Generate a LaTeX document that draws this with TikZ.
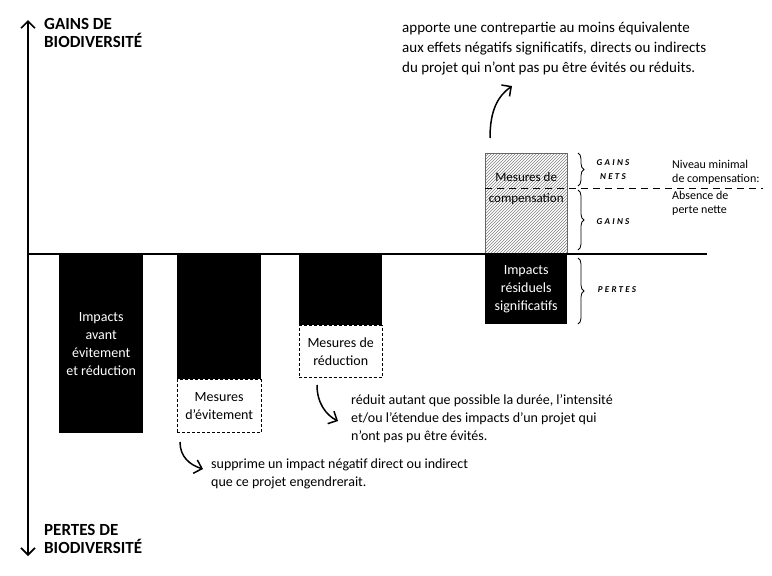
\documentclass[tikz,border=0pt]{standalone}
\usepackage{fontspec}
\setmainfont{Carlito}
\newfontfamily\bracefont{Carlito}[LetterSpace=25]
\usetikzlibrary{shapes, fit, calc, positioning, patterns, decorations.pathreplacing, arrows.meta}

\begin{document}
\begin{tikzpicture}[x=1pt, y=-1pt, >={Straight Barb[length=7pt, width=14pt]}]
			\tikzstyle{bar}=[
			fill=black,
			text=white,
			anchor=north west,
			inner sep=0pt,
			minimum width=84pt,
			align=center,
			font=\fontsize{14}{18}\selectfont]
			\tikzstyle{mesure}=[
			draw,
			dash pattern=on 3pt off 2pt,
			inner sep=0pt,
			minimum width=84pt,
			align=center,
			font=\fontsize{14}{18}\selectfont]
			\tikzstyle{note}=[
			anchor=north west,
			align=left,
			inner sep=0pt,
			font=\fontsize{14}{18}\selectfont]
			\tikzstyle{gain}=[
			align=center,
			inner sep=0pt,
			font=\bracefont\bfseries\itshape\fontsize{9}{14}\selectfont]
			\tikzstyle{axe}=[
			anchor=north west,
			align=left,
			inner sep=0pt,
			font=\bfseries\fontsize{17}{18}\selectfont]
			\tikzstyle{accolade}=[decorate, decoration={brace, amplitude=6pt}, thick]
			\useasboundingbox (0,0) rectangle (772,576);
			\node[bar, minimum height=179pt] (AV) at (59,254) {Impacts\\avant\\évitement\\et réduction};
			\node[bar, minimum height=125pt] (EV) at (177,254) {};
			\node[mesure, minimum height=53pt, below=0pt of EV] (EV_M) {Mesures\\d'évitement};
			\node[bar, minimum width=83pt, minimum height=71pt] (RE) at (299,254) {};
			\node[mesure, minimum width=83pt, minimum height=52pt, below=0pt of RE] (RE_M) {Mesures de\\réduction};
			\node[draw=black!60, pattern=north east lines, pattern color=gray, anchor=north west, minimum width=82pt, minimum height=101pt] (CO) at (485,153) {};
			\node[align=center, font=\fontsize{13}{21}\selectfont] (CO_T) at ([yshift=15pt]CO.center) {Mesures de\\compensation};
			\node[bar, minimum width=82pt, minimum height=70pt] (RS) at (485,254) {Impacts\\résiduels\\significatifs};
			%
			\coordinate (O) at (28,254);
			\coordinate (O_E) at (707,254);
			\coordinate (Y_H) at (28,20);
			\coordinate (Y_B) at (28,556);
			\draw[line width=1.6pt] (O) -- (O_E);
			\draw[<->, line width=1.6pt] (Y_H) -- (Y_B);
			\node[axe] (GB) at (44,18) {GAINS DE\\BIODIVERSITÉ};
			\node[axe] (PB) at (44,524) {PERTES DE\\BIODIVERSITÉ};
			%
			\coordinate (NM) at (485,188);
			\coordinate (NM_E) at (763,188);
			\draw[thick, dash pattern=on 7pt off 5pt] (NM) -- (NM_E);
			\draw[accolade] (578,153) -- (578,186);
			\draw[accolade] (578,190) -- (578,250);
			\draw[accolade] (578,258) -- (578,324);
			\node[gain] (GN) at (613,170) {GAINS\\NETS};
			\node[gain] (G) at (613,222) {GAINS};
			\node[gain] (P) at (617,290) {PERTES};
			\node[note, font=\fontsize{12}{14}\selectfont] (NV) at (672,160) {Niveau minimal\\de compensation:};
			\node[note, font=\fontsize{12}{14}\selectfont] (AP) at (672,191) {Absence de\\perte nette};
			%
			\node[note, font=\fontsize{15}{20}\selectfont] (CO_N) at (402,22) {apporte une contrepartie au moins équivalente\\aux effets négatifs significatifs, directs ou indirects\\du projet qui n'ont pas pu être évités ou réduits.};
			\node[note] (RE_N) at (351,394) {réduit autant que possible la durée, l'intensité\\et/ou l'étendue des impacts d'un projet qui\\n'ont pas pu être évités.};
			\node[note] (EV_N) at (211,459) {supprime un impact négatif direct ou indirect\\que ce projet engendrerait.};
			%
			\coordinate (CO_A) at (490,138);
			\coordinate (CO_B) at (512,86);
			\coordinate (RE_A) at (317,385);
			\coordinate (RE_B) at (338,421);
			\coordinate (EV_A) at (180,442);
			\coordinate (EV_B) at (203,469);
			\draw[->, line width=1.5pt] (CO_A) .. controls (490,110) and (498,96) .. (CO_B);
			\draw[->, line width=1.5pt] (RE_A) .. controls (317,403) and (326,415) .. (RE_B);
			\draw[->, line width=1.5pt] (EV_A) .. controls (180,457) and (190,465) .. (EV_B);
		\end{tikzpicture}
\end{document}
